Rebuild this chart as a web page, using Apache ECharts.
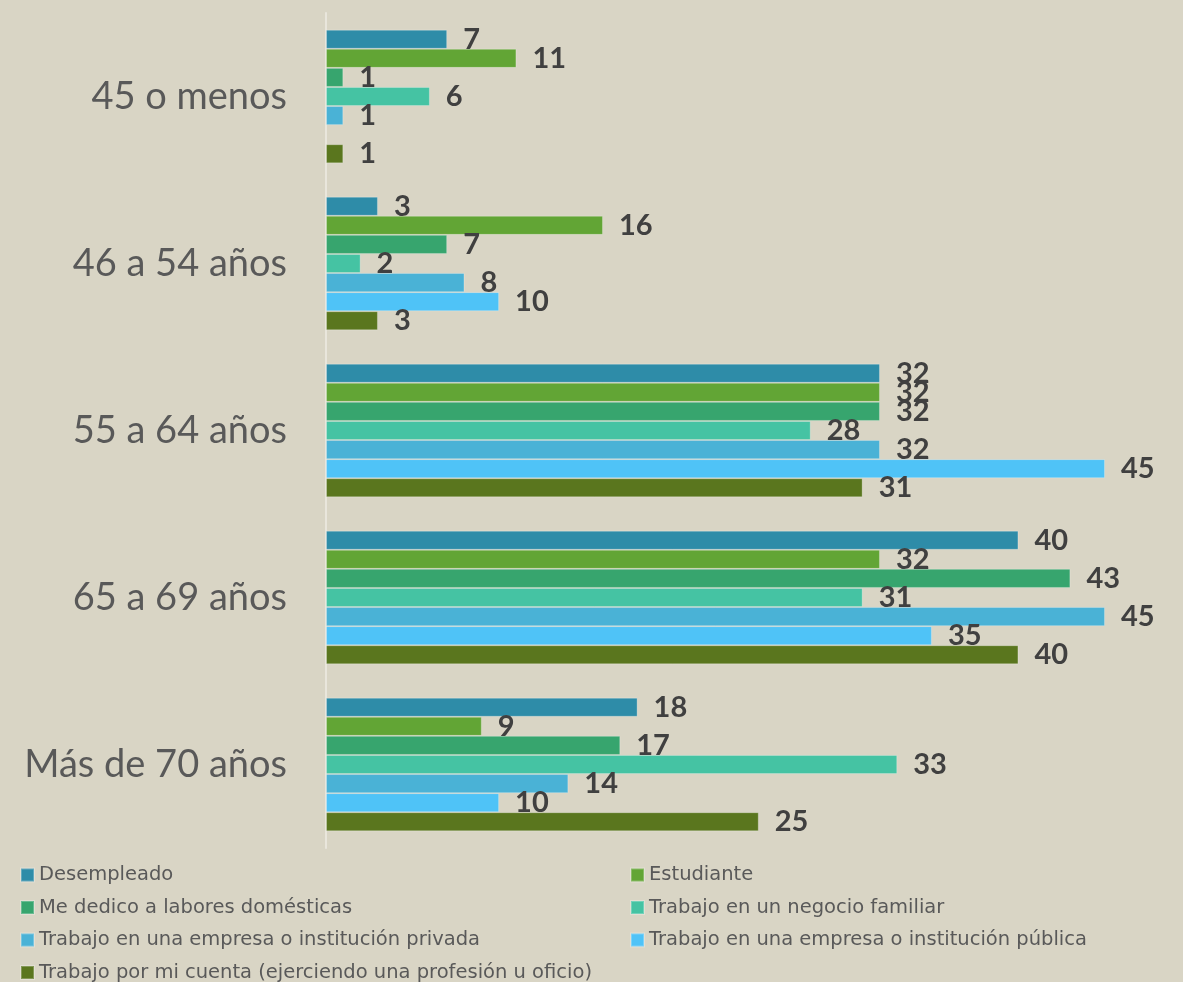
<!DOCTYPE html>
<html>
<head>
<meta charset="utf-8">
<script src="https://cdn.jsdelivr.net/npm/echarts@6/dist/echarts.min.js"></script>
<style>
html, body { margin: 0; padding: 0; background: #d9d5c5; }
#main { width: 1183px; height: 982px; }
</style>
</head>
<body>
<div id="main"></div>
<script>
var categories = ['45 o menos', '46 a 54 años', '55 a 64 años', '65 a 69 años', 'Más de 70 años'];

var seriesNames = [
    'Desempleado',
    'Estudiante',
    'Me dedico a labores domésticas',
    'Trabajo en un negocio familiar',
    'Trabajo en una empresa o institución privada',
    'Trabajo en una empresa o institución pública',
    'Trabajo por mi cuenta (ejerciendo una profesión u oficio)'
];

var desempleado = [7, 3, 32, 40, 18];
var estudiante = [11, 16, 32, 32, 9];
var domesticas = [1, 7, 32, 43, 17];
var negocioFamiliar = [6, 2, 28, 31, 33];
var empresaPrivada = [1, 8, 32, 45, 14];
var empresaPublica = ['-', 10, 45, 35, 10];
var porMiCuenta = [1, 3, 31, 40, 25];

var seriesValues = [desempleado, estudiante, domesticas, negocioFamiliar, empresaPrivada, empresaPublica, porMiCuenta];
var colors = ['#2e8ca8', '#62a535', '#37a56e', '#45c3a3', '#4ab2d6', '#4fc3f7', '#5a761e'];

var myChart = echarts.init(document.getElementById('main'));

var series = seriesNames.map(function (name, i) {
    return {
        name: name,
        type: 'bar',
        data: seriesValues[i],
        barGap: '0%',
        barCategoryGap: '20%',
        itemStyle: {
            color: colors[i],
            borderColor: 'rgba(255,255,255,0.25)',
            borderWidth: 1
        },
        label: {
            show: true,
            position: 'right',
            distance: 16,
            color: '#404040',
            fontFamily: 'Lato',
            fontWeight: 'bold',
            fontSize: 29
        }
    };
});

var legendText = {
    color: '#595959',
    fontFamily: 'DejaVu Sans',
    fontSize: 19.5
};

option = {
    backgroundColor: '#d9d5c5',
    color: colors,
    animation: false,
    grid: {
        left: 326,
        width: 779,
        top: 13,
        height: 835
    },
    xAxis: {
        type: 'value',
        min: 0,
        max: 45,
        show: false
    },
    yAxis: {
        type: 'category',
        data: categories,
        inverse: true,
        axisLine: { show: true, lineStyle: { color: '#e9e6dc', width: 2 } },
        axisTick: { show: false },
        axisLabel: {
            color: '#595959',
            fontFamily: 'Lato',
            fontSize: 38,
            margin: 39
        }
    },
    legend: [
        {
            orient: 'vertical',
            left: 15,
            top: 860,
            height: 160,
            itemWidth: 13,
            itemHeight: 13,
            itemGap: 12.5,
            icon: 'rect',
            textStyle: legendText,
            data: [seriesNames[0], seriesNames[2], seriesNames[4], seriesNames[6]]
        },
        {
            orient: 'vertical',
            left: 625,
            top: 860,
            height: 160,
            itemWidth: 13,
            itemHeight: 13,
            itemGap: 12.5,
            icon: 'rect',
            textStyle: legendText,
            data: [seriesNames[1], seriesNames[3], seriesNames[5]]
        }
    ],
    series: series
};

myChart.setOption(option);
</script>
</body>
</html>
